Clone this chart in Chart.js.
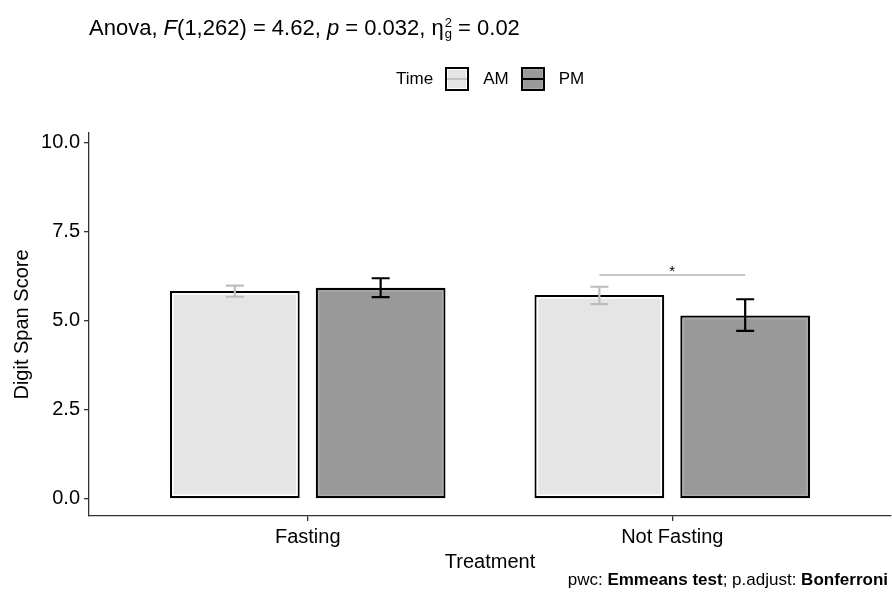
<!DOCTYPE html>
<html><head><meta charset="utf-8">
<script src="https://cdn.jsdelivr.net/npm/chart.js@4.4.1/dist/chart.umd.min.js"></script>
<style>
html,body{margin:0;padding:0;background:#fff;}
#wrap{position:relative;width:892px;height:596px;font-family:"Liberation Sans",Arial,sans-serif;color:#000;overflow:hidden;}
canvas{position:absolute;left:0;top:0;}
#title{position:absolute;left:89px;top:13px;font-size:22px;white-space:nowrap;line-height:30px;}
.ss{display:inline-flex;flex-direction:column;font-size:13px;line-height:11px;vertical-align:8px;margin-left:1px;text-align:center;}
#legend{position:absolute;left:396px;top:67px;height:24px;display:flex;align-items:center;font-size:17px;white-space:nowrap;}
.key{position:relative;width:20px;height:20px;border:2px solid #000;box-sizing:content-box;margin:0 14px 0 12px;}
.key .in{position:absolute;left:0;top:0;right:0;bottom:0;border:1px solid;}
.key .mid{position:absolute;left:0;right:0;top:9px;height:2px;}
#caption{position:absolute;right:4px;top:570px;font-size:17px;white-space:nowrap;}
</style></head>
<body>
<div id="wrap">
<canvas id="c" width="892" height="596"></canvas>
<div id="title">Anova, <i>F</i>(1,262) = 4.62, <i>p</i> = 0.032, η<span class="ss"><span>2</span><span>g</span></span> = 0.02</div>
<div id="legend"><span>Time</span>
<span class="key" style="background:#e5e5e5"><span class="in" style="border-color:#fff"></span><span class="mid" style="background:#c4c4c4"></span></span><span>AM</span>
<span class="key" style="background:#999"><span class="in" style="border-color:#aaa"></span><span class="mid" style="background:#000"></span></span><span>PM</span></div>
<div id="caption">pwc: <b>Emmeans test</b>; p.adjust: <b>Bonferroni</b></div>
</div>
<script>
// ---- data ----
const categories = ['Fasting', 'Not Fasting'];
const seriesNames = ['AM', 'PM'];
const amMean  = [5.84, 5.73];
const amLower = [5.68, 5.47];
const amUpper = [5.99, 5.96];
const pmMean  = [5.93, 5.15];
const pmLower = [5.67, 4.72];
const pmUpper = [6.20, 5.61];
const yTicks = [0, 2.5, 5, 7.5, 10];
const bracketGroup = 1;      // index into categories
const bracketY = 6.29;
const bracketLabel = '*';

const lowers = [amLower, pmLower];
const uppers = [amUpper, pmUpper];
const fills = ['#e5e5e5', '#999999'];
const innerStrokes = ['#ffffff', '#ababab'];
const errColors = ['#bdbdbd', '#000000'];

const FONT = '"Liberation Sans", Arial, sans-serif';

const overlay = {
  id: 'overlay',
  afterDatasetsDraw(chart) {
    const ctx = chart.ctx, ys = chart.scales.y;
    chart.data.datasets.forEach((ds, i) => {
      const meta = chart.getDatasetMeta(i);
      meta.data.forEach((bar, j) => {
        const p = bar.getProps(['x', 'y', 'base', 'width'], true);
        ctx.save();
        ctx.strokeStyle = innerStrokes[i];
        ctx.lineWidth = 1.5;
        const inset = 3;
        ctx.strokeRect(p.x - p.width / 2 + inset, p.y + inset, p.width - 2 * inset, p.base - p.y - 2 * inset);
        const lo = ys.getPixelForValue(lowers[i][j]);
        const hi = ys.getPixelForValue(uppers[i][j]);
        const cw = 9;
        ctx.strokeStyle = errColors[i];
        ctx.lineWidth = 2.2;
        ctx.lineCap = 'butt';
        ctx.beginPath();
        ctx.moveTo(p.x, lo); ctx.lineTo(p.x, hi);
        ctx.moveTo(p.x - cw, lo); ctx.lineTo(p.x + cw, lo);
        ctx.moveTo(p.x - cw, hi); ctx.lineTo(p.x + cw, hi);
        ctx.stroke();
        ctx.restore();
      });
    });
    const a = chart.getDatasetMeta(0).data[bracketGroup];
    const b = chart.getDatasetMeta(1).data[bracketGroup];
    const by = ys.getPixelForValue(bracketY);
    ctx.save();
    ctx.strokeStyle = '#b3b3b3';
    ctx.lineWidth = 1.5;
    ctx.beginPath();
    ctx.moveTo(a.x, by); ctx.lineTo(b.x, by);
    ctx.stroke();
    ctx.fillStyle = '#000';
    ctx.font = '15px ' + FONT;
    ctx.textAlign = 'center';
    ctx.textBaseline = 'alphabetic';
    ctx.fillText(bracketLabel, (a.x + b.x) / 2, by + 1);
    ctx.restore();
  }
};

const means = [amMean, pmMean];
const datasets = seriesNames.map((name, i) => ({
  label: name,
  data: categories.map((c, k) => ({ x: k + 1, y: means[i][k] })),
  backgroundColor: fills[i],
  borderColor: '#000',
  borderWidth: 2.2,
  borderSkipped: false,
  categoryPercentage: 0.8,
  barPercentage: 0.89
}));

new Chart(document.getElementById('c'), {
  type: 'bar',
  data: { datasets },
  plugins: [overlay],
  options: {
    responsive: false,
    animation: false,
    devicePixelRatio: 1,
    layout: { padding: { left: 0, right: 1, top: 133, bottom: 20 } },
    plugins: { legend: { display: false }, tooltip: { enabled: false }, title: { display: false } },
    scales: {
      x: {
        type: 'linear',
        min: 0.4, max: 2.6,
        offset: false,
        afterBuildTicks(s) { s.ticks = categories.map((c, k) => ({ value: k + 1 })); },
        afterFit(s) { s.height = 60; },
        ticks: {
          color: '#000',
          font: { family: FONT, size: 20 },
          padding: 4,
          maxRotation: 0,
          autoSkip: false,
          callback: (v) => categories[Math.round(v) - 1]
        },
        grid: { display: true, drawOnChartArea: false, drawTicks: true, tickLength: 5, color: '#333', offset: false, lineWidth: 1.3 },
        border: { display: true, color: '#333', width: 1.3 },
        title: { display: true, text: 'Treatment', color: '#000', font: { family: FONT, size: 20 }, padding: { top: 0, bottom: 2 } }
      },
      y: {
        type: 'linear',
        min: -0.48, max: 10.28,
        afterBuildTicks(s) { s.ticks = yTicks.map(v => ({ value: v })); },
        afterFit(s) { s.width = 89; },
        ticks: {
          color: '#000',
          font: { family: FONT, size: 20 },
          padding: 4,
          callback: (v) => Number(v).toFixed(1)
        },
        grid: { display: true, drawOnChartArea: false, drawTicks: true, tickLength: 5, color: '#333', lineWidth: 1.3 },
        border: { display: true, color: '#333', width: 1.3 },
        title: { display: true, text: 'Digit Span Score', color: '#000', font: { family: FONT, size: 20 }, padding: { top: 10, bottom: 0 } }
      }
    }
  }
});
</script>
</body></html>
